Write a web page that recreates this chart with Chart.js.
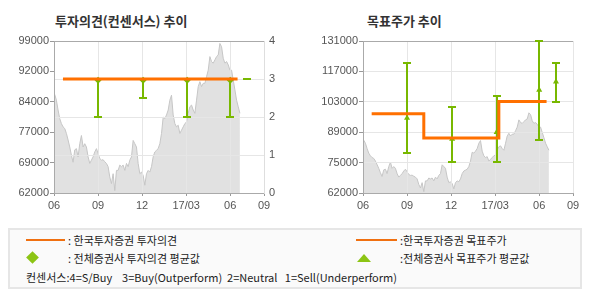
<!DOCTYPE html>
<html>
<head>
<meta charset="utf-8">
<script src="https://cdn.jsdelivr.net/npm/chart.js@4.4.0/dist/chart.umd.min.js"></script>
<style>
  body { margin:0; width:590px; height:300px; background:#fff; position:relative; overflow:hidden;
         font-family:"Noto Sans CJK KR", sans-serif; }
  canvas { position:absolute; top:0; }
  #opChart { left:0; }
  #tpChart { left:295px; }
  .title { position:absolute; top:13px; font-size:13px; line-height:16px; font-weight:bold; color:#333; }
  .lgbox { position:absolute; left:8px; top:228px; width:570px; height:57px; border:2px solid #e6e6e6; background:#fafafa; }
  .lgtxt { position:absolute; font-size:11px; line-height:16px; color:#222; white-space:pre; }
  .lgline { position:absolute; height:2px; background:#f07010; }
  .lgdia { position:absolute; width:9px; height:9px; background:#8cc414; transform:rotate(45deg); }
  .lgtri { position:absolute; width:0; height:0; border-left:7px solid transparent; border-right:7px solid transparent; border-bottom:8px solid #8cc414; }
</style>
</head>
<body>
<div class="title" style="left:55px">투자의견(컨센서스) 추이</div>
<div class="title" style="left:367px">목표주가 추이</div>
<canvas id="opChart" width="295" height="215"></canvas>
<canvas id="tpChart" width="295" height="215"></canvas>

<div class="lgbox"></div>
<div class="lgline" style="left:26px;top:239px;width:39px"></div>
<div class="lgtxt" style="left:68px;top:232px">: 한국투자증권 투자의견</div>
<div class="lgdia" style="left:28px;top:253px"></div>
<div class="lgtxt" style="left:68px;top:250px">: 전체증권사 투자의견 평균값</div>
<div class="lgtxt" style="left:26px;top:269px">컨센서스:4=S/Buy    3=Buy(Outperform)  2=Neutral   1=Sell(Underperform)</div>
<div class="lgline" style="left:356px;top:239px;width:41px"></div>
<div class="lgtxt" style="left:400px;top:232px">:한국투자증권 목표주가</div>
<div class="lgtri" style="left:357px;top:254px"></div>
<div class="lgtxt" style="left:400px;top:250px">:전체증권사 목표주가 평균값</div>

<script>
// x axis in months from 2016/06
const X_TICK_POS = [0, 3, 6, 9, 12, 14.3];
const X_TICK_LABELS = ["06", "09", "12", "17/03", "06", "09"];

// share price (gray area), evenly spaced from PRICE_X_START to PRICE_X_END
const PRICE_X_START = 0.05;
const PRICE_X_END = 12.66;
const PRICE = [
  86000, 84600, 82200, 80100, 78900, 78100, 77700, 76500, 74900, 73200,
  71200, 69500, 72500, 72800, 70800, 74000, 76000, 73200, 74000, 73200,
  70800, 69200, 70000, 70800, 72000, 72800, 71600, 70400, 70000, 70100,
  69600, 69200, 68400, 65900, 64300, 66700, 62600, 67500, 67500, 68800,
  68400, 68800, 67500, 69200, 68400, 70000, 70800, 74800, 74000, 73200,
  69200, 66700, 67100, 66300, 63900, 66700, 67500, 67100, 68400, 70800,
  72000, 72400, 72800, 74000, 76500, 80500, 80100, 81000, 82200, 84600,
  85800, 81000, 78900, 78100, 78500, 76500, 77300, 78100, 78900, 79300,
  81400, 83000, 83400, 82200, 81400, 84600, 87900, 89100, 87900, 88700,
  88700, 90300, 91900, 95200, 94000, 93600, 94400, 95200, 95600, 98400,
  97600, 94800, 93600, 94000, 93200, 91900, 91900, 89500, 87100, 84600,
  83000, 81400
];

// investment opinion chart
const OP_Y_TICKS = [62000, 69400, 76800, 84200, 91600, 99000];
const OP_Y_LABELS = ["62000", "69000", "77000", "84000", "92000", "99000"];
const OPINION_X = [0.61, 12.5];
const OPINION = [3, 3];
const CONS_X = [3.0, 6.07, 9.07, 12.0, 13.17];
const CONS_LOW = [2, 2.5, 2, 2, 3];
const CONS_HIGH = [3, 3, 3, 3, 3];
const CONS_AVG = [2.97, 2.97, 2.97, 2.97, null];

// target price chart
const TP_Y_TICKS = [62000, 75800, 89600, 103400, 117200, 131000];
const TP_Y_LABELS = ["62000", "75000", "89000", "103000", "117000", "131000"];
const TARGET_X = [0.59, 4.14, 9.25, 12.5];
const TARGET = [98000, 87000, 103500, 103500];
const TGT_X = [3.0, 6.07, 9.1, 12.0, 13.14];
const TGT_LOW = [80000, 76000, 76000, 86000, 103500];
const TGT_HIGH = [121000, 101000, 106000, 131000, 121000];
const TGT_AVG = [96000, 86500, 89600, 108700, 112500];

const ORANGE = "#ff7000";
const GREEN = "#78b800";
const GRID = "#e6e6e6";
const AXIS = "#aaaaaa";
const TXT = "#555";
const TICK_FONT = { family: "Liberation Sans", size: 11 };

const pricePoints = PRICE.map((v, i) => ({
  x: PRICE_X_START + i * (PRICE_X_END - PRICE_X_START) / (PRICE.length - 1),
  y: v
}));
const toPts = (xs, ys) => xs.map((x, i) => ({ x: x, y: ys[i] }));

function overlay(xs, lows, highs, axisId){
  return {
    id: "overlay",
    afterDatasetDraw(chart, args){
      if(args.index !== 0) return;
      const ctx = chart.ctx;
      const area = chart.chartArea;
      const scales = Object.values(chart.scales);
      scales.forEach(s => s.drawGrid(area));
      scales.forEach(s => s.drawBorder());
      ctx.save();
      ctx.strokeStyle = AXIS;
      ctx.lineWidth = 1;
      ctx.beginPath();
      ctx.moveTo(area.left, Math.round(area.top) + 0.5);
      ctx.lineTo(area.right, Math.round(area.top) + 0.5);
      ctx.stroke();

      const sx = chart.scales.x;
      const sy = chart.scales[axisId];
      ctx.strokeStyle = GREEN;
      ctx.lineWidth = 2;
      xs.forEach((xv, i) => {
        const px = Math.round(sx.getPixelForValue(xv));
        const top = Math.round(sy.getPixelForValue(highs[i]));
        const bot = Math.round(sy.getPixelForValue(lows[i]));
        ctx.beginPath();
        ctx.moveTo(px, top); ctx.lineTo(px, bot);
        ctx.moveTo(px - 4, top); ctx.lineTo(px + 4, top);
        ctx.moveTo(px - 4, bot); ctx.lineTo(px + 4, bot);
        ctx.stroke();
      });
      ctx.restore();
    }
  };
}

function xScale(){
  return {
    type: "linear",
    min: 0,
    max: X_TICK_POS[X_TICK_POS.length - 1],
    afterBuildTicks: s => { s.ticks = X_TICK_POS.map(v => ({ value: v })); },
    afterFit: s => { s.height = 22; },
    ticks: {
      autoSkip: false, maxRotation: 0, padding: 3, color: TXT, font: TICK_FONT,
      callback: (v, i) => X_TICK_LABELS[i]
    },
    grid: {
      color: c => (c.index === 0 ? "rgba(0,0,0,0)" : GRID),
      tickColor: "#999", tickLength: 3
    },
    border: { color: AXIS }
  };
}

function priceAxis(ticks, labels, width, grid){
  return {
    position: "left",
    min: ticks[0],
    max: ticks[ticks.length - 1],
    afterBuildTicks: s => { s.ticks = ticks.map(v => ({ value: v })); },
    afterFit: s => { s.width = width; },
    ticks: { padding: 1, color: TXT, font: TICK_FONT, callback: (v, i) => labels[i] },
    grid: {
      drawOnChartArea: grid,
      color: c => (c.index === 0 || c.index === ticks.length - 1 ? "rgba(0,0,0,0)" : GRID),
      tickColor: "#999", tickLength: 4
    },
    border: { color: AXIS }
  };
}

function priceDataset(){
  return {
    type: "line",
    data: pricePoints,
    yAxisID: "y",
    order: 3,
    borderColor: "#c6c6c6",
    borderWidth: 1,
    backgroundColor: "#e1e1e1",
    fill: "start",
    pointRadius: 0,
    tension: 0
  };
}

const common = {
  responsive: false,
  animation: false,
  events: [],
  plugins: { legend: { display: false }, tooltip: { enabled: false } }
};

new Chart(document.getElementById("opChart"), {
  type: "line",
  data: {
    datasets: [
      priceDataset(),
      {
        type: "line",
        data: toPts(CONS_X, CONS_AVG),
        yAxisID: "y1",
        order: 2,
        showLine: false,
        pointStyle: "rectRot",
        pointRadius: 3.5,
        pointBackgroundColor: GREEN,
        pointBorderWidth: 0
      },
      {
        type: "line",
        data: toPts(OPINION_X, OPINION),
        yAxisID: "y1",
        order: 1,
        borderColor: ORANGE,
        borderWidth: 3,
        pointRadius: 0
      }
    ]
  },
  options: Object.assign({}, common, {
    layout: { padding: { top: 41, left: 0, right: 0, bottom: 0 } },
    scales: {
      x: xScale(),
      y: priceAxis(OP_Y_TICKS, OP_Y_LABELS, 54, false),
      y1: {
        position: "right",
        min: 0,
        max: 4,
        afterFit: s => { s.width = 31; },
        ticks: { stepSize: 1, padding: 5, color: TXT, font: TICK_FONT },
        grid: {
          color: c => (c.tick.value === 0 || c.tick.value === 4 ? "rgba(0,0,0,0)" : GRID),
          drawTicks: false
        },
        border: { color: "#dedede" }
      }
    }
  }),
  plugins: [overlay(CONS_X, CONS_LOW, CONS_HIGH, "y1")]
});

new Chart(document.getElementById("tpChart"), {
  type: "line",
  data: {
    datasets: [
      priceDataset(),
      {
        type: "line",
        data: toPts(TGT_X, TGT_AVG),
        yAxisID: "y",
        order: 2,
        showLine: false,
        pointStyle: "triangle",
        pointRadius: 3.5,
        pointBackgroundColor: GREEN,
        pointBorderWidth: 0
      },
      {
        type: "line",
        data: toPts(TARGET_X, TARGET),
        yAxisID: "y",
        order: 1,
        stepped: "before",
        borderColor: ORANGE,
        borderWidth: 3,
        pointRadius: 0
      }
    ]
  },
  options: Object.assign({}, common, {
    layout: { padding: { top: 41, left: 0, right: 17, bottom: 0 } },
    scales: {
      x: xScale(),
      y: priceAxis(TP_Y_TICKS, TP_Y_LABELS, 68, true)
    }
  }),
  plugins: [overlay(TGT_X, TGT_LOW, TGT_HIGH, "y")]
});
</script>
</body>
</html>
